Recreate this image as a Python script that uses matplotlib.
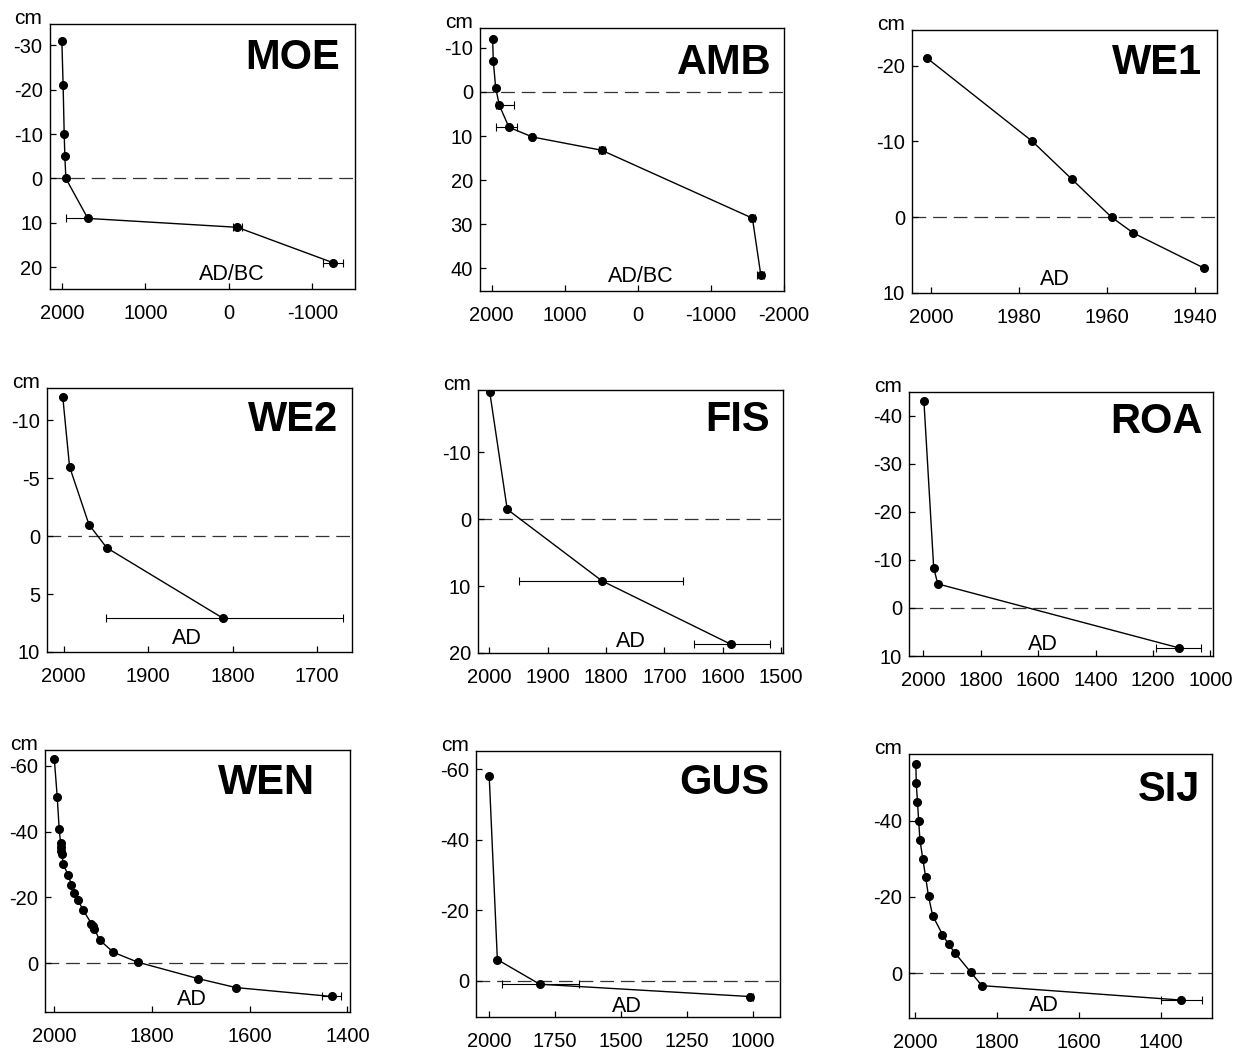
import numpy as np
import matplotlib.pyplot as plt

plt.rcParams['font.family'] = ['Liberation Sans', 'DejaVu Sans']
plt.rcParams['axes.unicode_minus'] = False

# ages (AD, negative = BC), depths (cm), age errors (older side, younger side)
moe_age = [2000, 1985, 1972, 1964, 1952, 1689, -100, -1250]
moe_depth = [-31, -21, -10, -5, 0, 9, 11, 19]
moe_err_old = [0, 0, 0, 0, 0, 0, 55, 120]
moe_err_young = [0, 0, 0, 0, 0, 263, 55, 120]

amb_age = [1986, 1977, 1945, 1895, 1763, 1441, 495, -1568, -1682]
amb_depth = [-12, -7, -1, 3, 8, 10.2, 13.2, 28.6, 41.4]
amb_err_old = [0, 0, 0, 204, 104, 20, 40, 30, 50]
amb_err_young = [0, 0, 0, 46, 178, 20, 40, 30, 50]

we1_age = [2001, 1977, 1968, 1959, 1954, 1938]
we1_depth = [-21, -10, -5, 0, 2.1, 6.7]
we1_err_old = [0, 0, 0, 0, 0, 0]
we1_err_young = [0, 0, 0, 0, 0, 0]

we2_age = [2001, 1993, 1970, 1949, 1811]
we2_depth = [-12, -6, -1, 1, 7.1]
we2_err_old = [0, 0, 0, 0, 142]
we2_err_young = [0, 0, 0, 0, 139]

fis_age = [1999, 1969, 1807, 1586]
fis_depth = [-19.1, -1.5, 9.2, 18.7]
fis_err_old = [0, 0, 139, 67]
fis_err_young = [0, 0, 142, 64]

roa_age = [1998, 1964, 1950, 1110]
roa_depth = [-43, -8.4, -5, 8.3]
roa_err_old = [0, 0, 0, 78]
roa_err_young = [0, 0, 0, 78]

wen_age = [2000, 1994, 1990, 1987, 1986, 1986, 1984, 1982, 1971, 1965, 1960,
           1951, 1941, 1924, 1920, 1918, 1907, 1879, 1829, 1705, 1628, 1432]
wen_depth = [-62, -50.6, -40.8, -36.4, -35.2, -34.1, -33.1, -30.1, -26.7, -23.8, -21.5,
             -19.1, -16.2, -12.1, -11.3, -10.5, -7.1, -3.4, -0.4, 4.6, 7.3, 10.0]
wen_err_old = [0] * 21 + [20]
wen_err_young = [0] * 21 + [20]

gus_age = [1999, 1968, 1807, 1008]
gus_depth = [-58.2, -6, 1, 4.5]
gus_err_old = [0, 0, 150, 10]
gus_err_young = [0, 0, 145, 10]

sij_age = [1998, 1997, 1994, 1991, 1988, 1981, 1974, 1967, 1957, 1933, 1918, 1902, 1864, 1837, 1350]
sij_depth = [-54.9, -49.8, -44.9, -39.8, -34.9, -30, -25.1, -20.1, -15.1, -10.1, -7.5, -5.2, -0.2, 3.3, 7.1]
sij_err_old = [0] * 14 + [50]
sij_err_young = [0] * 14 + [50]

W, H = 1246, 1052

# name, data, axes box in pixels (left, right, top, bottom), xlim, ylim, xticks, yticks, era label, label pos, title pos
panels = [
    ('MOE', (moe_age, moe_depth, moe_err_old, moe_err_young), (49.5, 355, 24, 289),
     (2148, -1510), (24.9, -34.8), [2000, 1000, 0, -1000], [-30, -20, -10, 0, 10, 20],
     'AD/BC', (0.596, 0.054), (0.95, 0.87)),
    ('AMB', (amb_age, amb_depth, amb_err_old, amb_err_young), (480, 784, 28, 291),
     (2159, -2000), (45.1, -14.5), [2000, 1000, 0, -1000, -2000], [-10, 0, 10, 20, 30, 40],
     'AD/BC', (0.53, 0.055), (0.958, 0.867)),
    ('WE1', (we1_age, we1_depth, we1_err_old, we1_err_young), (912, 1217, 30, 293),
     (2004.4, 1935), (10, -24.7), [2000, 1980, 1960, 1940], [-20, -10, 0, 10],
     'AD', (0.47, 0.05), (0.95, 0.873)),
    ('WE2', (we2_age, we2_depth, we2_err_old, we2_err_young), (47, 352, 388, 652),
     (2019.7, 1658.7), (10, -12.8), [2000, 1900, 1800, 1700], [-10, -5, 0, 5, 10],
     'AD', (0.458, 0.05), (0.954, 0.88)),
    ('FIS', (fis_age, fis_depth, fis_err_old, fis_err_young), (478, 783, 390, 653),
     (2019, 1497), (20, -19.35), [2000, 1900, 1800, 1700, 1600, 1500], [-10, 0, 10, 20],
     'AD', (0.5, 0.044), (0.958, 0.886)),
    ('ROA', (roa_age, roa_depth, roa_err_old, roa_err_young), (909, 1213, 392, 656),
     (2050, 990.7), (10, -44.9), [2000, 1800, 1600, 1400, 1200, 1000], [-40, -30, -20, -10, 0, 10],
     'AD', (0.44, 0.042), (0.967, 0.886)),
    ('WEN', (wen_age, wen_depth, wen_err_old, wen_err_young), (45, 350, 750, 1012),
     (2019, 1394.5), (14.7, -64.7), [2000, 1800, 1600, 1400], [-60, -40, -20, 0],
     'AD', (0.48, 0.047), (0.885, 0.873)),
    ('GUS', (gus_age, gus_depth, gus_err_old, gus_err_young), (476, 780, 751, 1017),
     (2049, 896), (10.3, -65.2), [2000, 1750, 1500, 1250, 1000], [-60, -40, -20, 0],
     'AD', (0.496, 0.038), (0.967, 0.878)),
    ('SIJ', (sij_age, sij_depth, sij_err_old, sij_err_young), (909, 1212, 754, 1018),
     (2014.7, 1275.5), (11.8, -57.5), [2000, 1800, 1600, 1400], [-40, -20, 0],
     'AD', (0.446, 0.047), (0.961, 0.865)),
]

fig = plt.figure(figsize=(W / 100, H / 100), dpi=100)

for name, (age, depth, e_old, e_young), (l, r, t, b), xlim, ylim, xt, yt, era, era_pos, ttl_pos in panels:
    ax = fig.add_axes([l / W, 1 - b / H, (r - l) / W, (b - t) / H])
    age = np.array(age, dtype=float)
    depth = np.array(depth, dtype=float)
    e_old = np.array(e_old, dtype=float)
    e_young = np.array(e_young, dtype=float)

    ax.axhline(0, color='#333333', lw=0.9, ls=(0, (11, 5.5)), zorder=1)
    ax.plot(age, depth, '-', color='black', lw=1.0, zorder=3)
    ax.plot(age, depth, 'o', color='black', ms=5.5, zorder=4)
    m = (e_old > 0) | (e_young > 0)
    if m.any():
        ax.errorbar(age[m], depth[m], xerr=[e_old[m], e_young[m]], fmt='none',
                    ecolor='black', elinewidth=0.8, capsize=3, capthick=0.8, zorder=2)

    ax.set_xlim(*xlim)
    ax.set_ylim(*ylim)
    ax.set_xticks(xt)
    ax.set_yticks(yt)
    ax.tick_params(axis='both', direction='in', length=4, width=0.9)
    ax.tick_params(axis='x', labelsize=14.5, pad=11)
    ax.tick_params(axis='y', labelsize=14.5, pad=5)
    for s in ax.spines.values():
        s.set_linewidth(1.0)

    ax.text(ttl_pos[0], ttl_pos[1], name, transform=ax.transAxes, ha='right', va='center',
            fontsize=30, fontweight='bold')
    ax.text(era_pos[0], era_pos[1], era, transform=ax.transAxes, ha='center', va='center',
            fontsize=15.5)
    ax.text(-0.07, 1.02, 'cm', transform=ax.transAxes, ha='center', va='center', fontsize=15)

fig.savefig('out.png', dpi=100)
